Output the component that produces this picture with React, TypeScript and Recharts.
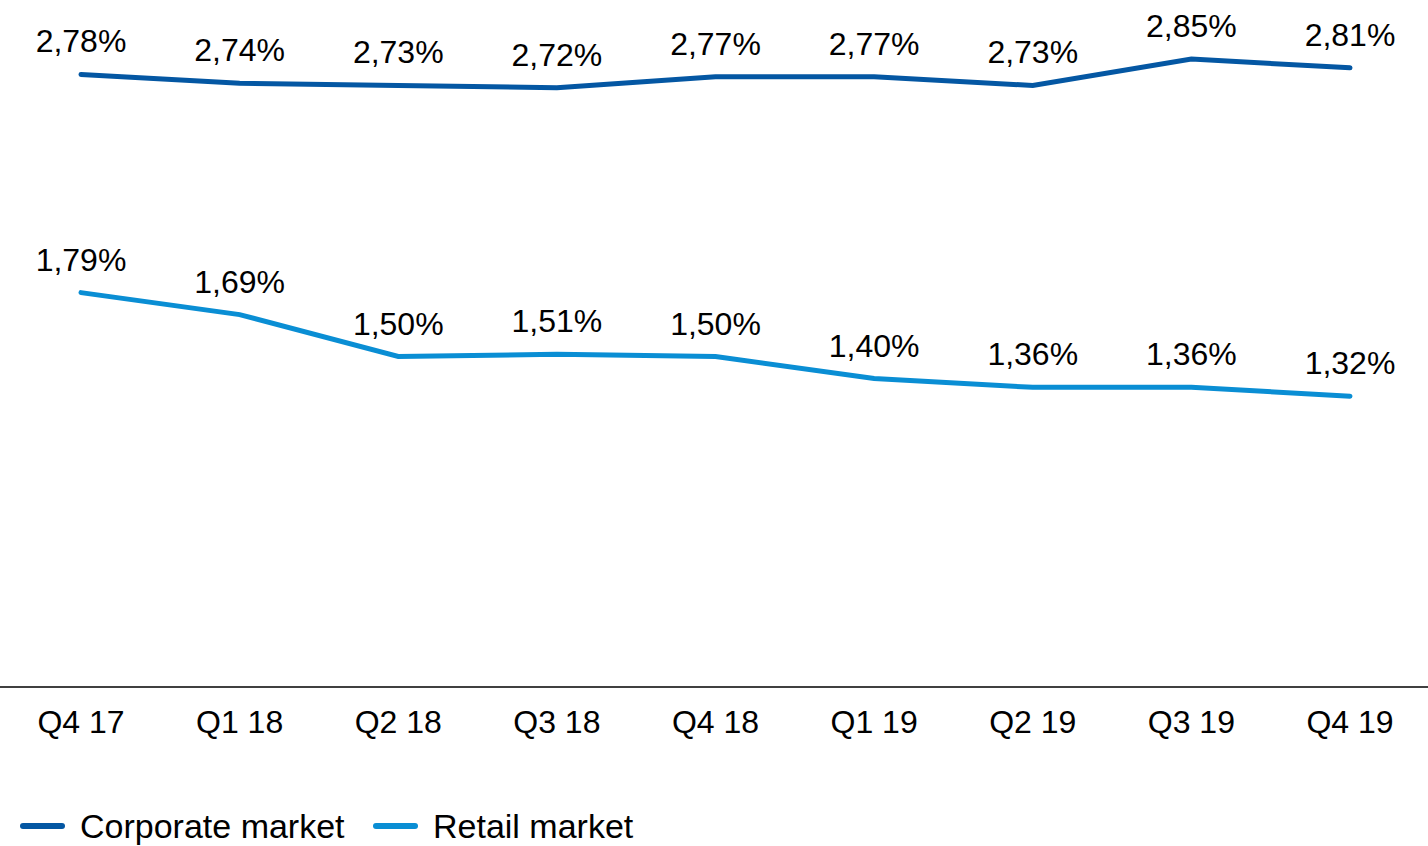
import React from 'react';
import { LineChart, Line, XAxis, YAxis, Legend, LabelList } from 'recharts';

const quarters = ['Q4 17', 'Q1 18', 'Q2 18', 'Q3 18', 'Q4 18', 'Q1 19', 'Q2 19', 'Q3 19', 'Q4 19'];
const corporateValues = [2.78, 2.74, 2.73, 2.72, 2.77, 2.77, 2.73, 2.85, 2.81];
const retailValues = [1.79, 1.69, 1.5, 1.51, 1.5, 1.4, 1.36, 1.36, 1.32];

const seriesNames = { corporate: 'Corporate market', retail: 'Retail market' };
const colors = { corporate: '#0457A3', retail: '#0A8ED4' };

const data = quarters.map((q, i) => ({
  name: q,
  corporate: corporateValues[i],
  retail: retailValues[i],
}));

const FONT = '"Liberation Sans", Arial, sans-serif';

const fmt = (v: number) => v.toFixed(2).replace('.', ',') + '%';

const renderLabel = (props: any) => {
  const { x, y, value } = props;
  return (
    <text x={x} y={y - 22} textAnchor="middle" fontSize={32} fontFamily={FONT} fill="#000">
      {fmt(value)}
    </text>
  );
};

const LegendContent = () => {
  const items = [
    { key: 'corporate', left: 20 },
    { key: 'retail', left: 373 },
  ] as const;
  return (
    <div style={{ position: 'relative', width: 1428, height: 60 }}>
      {items.map((it) => (
        <div key={it.key} style={{ position: 'absolute', left: it.left, top: 20, height: 40, display: 'flex', alignItems: 'center' }}>
          <svg width={45} height={8} style={{ display: 'block' }}>
            <line x1={3} y1={4} x2={42} y2={4} stroke={colors[it.key]} strokeWidth={6} strokeLinecap="round" />
          </svg>
          <span style={{ marginLeft: 15, fontSize: 34, fontFamily: FONT, color: '#000', lineHeight: '40px', whiteSpace: 'nowrap' }}>
            {seriesNames[it.key]}
          </span>
        </div>
      ))}
    </div>
  );
};

export default function App() {
  return (
    <div style={{ position: 'absolute', left: 0, top: 0, width: 1428, height: 846, background: '#fff' }}>
      <LineChart width={1428} height={846} data={data} margin={{ top: 26, right: 0, left: 0, bottom: 0 }}>
        <XAxis
          dataKey="name"
          height={99}
          tickLine={false}
          axisLine={{ stroke: '#000', strokeWidth: 1.5 }}
          tickMargin={17}
          tick={{ fontSize: 32, fontFamily: FONT, fill: '#000' }}
          interval={0}
          padding={{ left: 81, right: 78 }}
        />
        <YAxis hide domain={[0, 3]} />
        <Legend verticalAlign="bottom" height={60} content={() => <LegendContent />} />
        <Line
          type="linear"
          dataKey="corporate"
          name={seriesNames.corporate}
          stroke={colors.corporate}
          strokeWidth={5}
          dot={false}
          strokeLinecap="round"
          isAnimationActive={false}
        >
          <LabelList dataKey="corporate" content={renderLabel} />
        </Line>
        <Line
          type="linear"
          dataKey="retail"
          name={seriesNames.retail}
          stroke={colors.retail}
          strokeWidth={5}
          dot={false}
          strokeLinecap="round"
          isAnimationActive={false}
        >
          <LabelList dataKey="retail" content={renderLabel} />
        </Line>
      </LineChart>
    </div>
  );
}
